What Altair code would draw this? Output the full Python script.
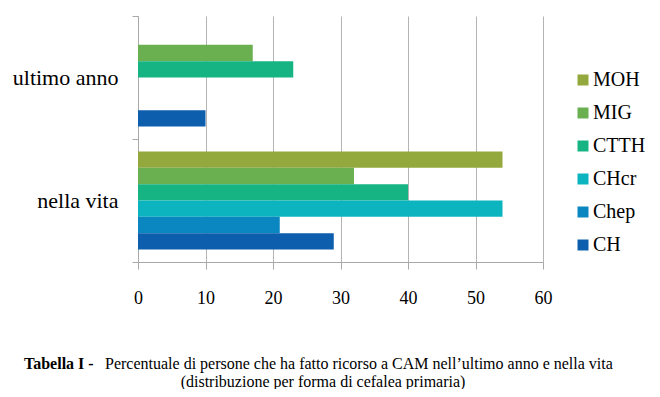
import altair as alt
import pandas as pd

categories = ["ultimo anno", "nella vita"]
series = ["MOH", "MIG", "CTTH", "CHcr", "Chep", "CH"]
ultimo_anno = [0, 17, 23, 0, 0, 10]
nella_vita = [54, 32, 40, 54, 21, 29]
colors = ["#93A93D", "#6AB050", "#16B483", "#0BB4BF", "#0A86C0", "#0D5EAD"]
x_ticks = [0, 10, 20, 30, 40, 50, 60]

caption_bold = "Tabella I -"
caption_line1 = "Percentuale di persone che ha fatto ricorso a CAM nell\u2019ultimo anno e nella vita"
caption_line2 = "(distribuzione per forma di cefalea primaria)"

rows = []
for s, a, b in zip(series, ultimo_anno, nella_vita):
    rows.append({"cat": categories[0], "serie": s, "val": a})
    rows.append({"cat": categories[1], "serie": s, "val": b})
df = pd.DataFrame(rows)

FONT = "Liberation Serif"

bars = alt.Chart(df).mark_bar().encode(
    x=alt.X("val:Q", scale=alt.Scale(domain=[0, 60], nice=False),
            axis=alt.Axis(values=x_ticks, title=None, grid=True, gridColor="#b4b4b4",
                          domainColor="#a8a8a8", tickColor="#a8a8a8", tickSize=7,
                          labelFontSize=18, labelColor="#000000", labelFlush=False,
                          labelPadding=20)),
    y=alt.Y("cat:N", sort=categories,
            scale=alt.Scale(paddingInner=0, paddingOuter=0),
            axis=alt.Axis(title=None, tickBand="extent", domainColor="#a8a8a8",
                          tickColor="#a8a8a8", tickSize=6,
                          labelFontSize=22, labelColor="#000000", labelPadding=14)),
    yOffset=alt.YOffset("serie:N", sort=series,
                        scale=alt.Scale(paddingInner=0, paddingOuter=0.765)),
    color=alt.Color("serie:N", sort=series,
                    scale=alt.Scale(domain=series, range=colors),
                    legend=alt.Legend(title=None, orient="none", legendX=435, legendY=54,
                                      symbolType="square", symbolSize=121,
                                      symbolStrokeWidth=0,
                                      labelFontSize=20, labelColor="#000000",
                                      rowPadding=13, padding=0, labelOffset=0)),
)

cap_df = pd.DataFrame({"a": [caption_bold], "b": [caption_line1], "c": [caption_line2]})

cap_bold = alt.Chart(cap_df).mark_text(font=FONT, fontSize=16, fontWeight="bold",
                                       align="left", baseline="middle", color="#000000").encode(
    text="a:N", x=alt.value(-114), y=alt.value(348))
cap_rest = alt.Chart(cap_df).mark_text(font=FONT, fontSize=16, align="left",
                                       baseline="middle", color="#000000").encode(
    text="b:N", x=alt.value(-33), y=alt.value(348))
cap2 = alt.Chart(cap_df).mark_text(font=FONT, fontSize=16, align="center",
                                   baseline="middle", color="#000000").encode(
    text="c:N", x=alt.value(185), y=alt.value(366))

chart = alt.layer(bars, cap_bold, cap_rest, cap2).properties(
    width=405, height=246,
    padding={"left": 130, "top": 8, "right": 109, "bottom": 127},
    autosize="none",
).configure(background="#ffffff", font=FONT).configure_view(stroke=None).configure_axis(
    labelFont=FONT).configure_legend(labelFont=FONT)

chart.save("out.html", embed_options={"renderer": "svg", "actions": False})
